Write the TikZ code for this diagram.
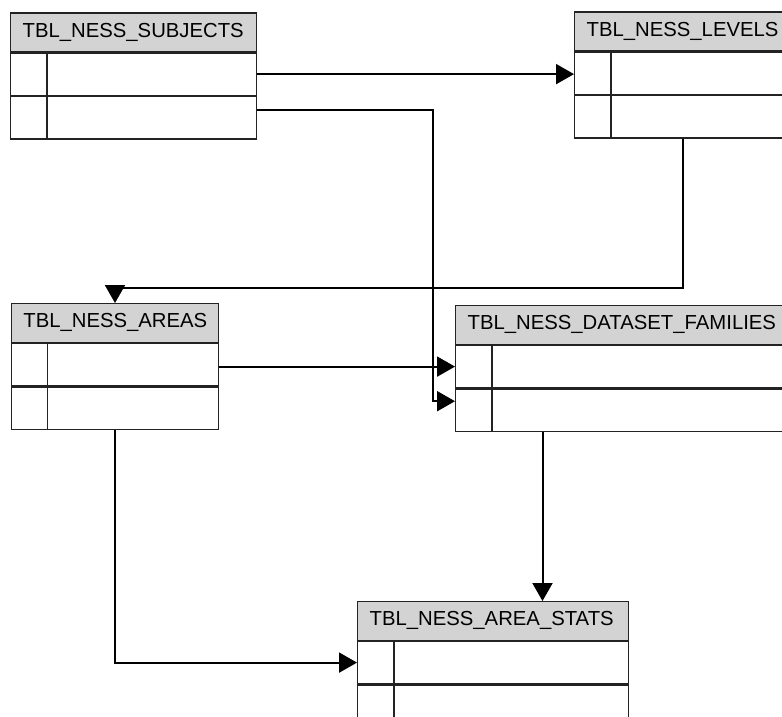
\documentclass[tikz,border=0pt]{standalone}
\usepackage{fontspec}
\setmainfont{Liberation Sans}
\usetikzlibrary{arrows.meta}
\definecolor{hdrc}{RGB}{211,211,211}
\definecolor{boxc}{RGB}{35,35,35}
\tikzset{
  tbl/.style={draw=boxc, line width=1.3pt, rectangle, anchor=north west, inner sep=0pt},
  hdr/.style={tbl, fill=hdrc, font=\fontsize{20.3}{24}\selectfont, inner xsep=12pt, align=left},
  rowbox/.style={tbl, fill=white, minimum height=42.3pt},
  keycol/.style={draw=boxc, line width=1.3pt},
  link/.style={line width=2pt, -{Triangle[length=18pt,width=20pt]}}
}
% table: name, x, y, width, text width (= width - 24), title
\newcommand\dbtable[6]{%
  \node[hdr, minimum width=#4pt, minimum height=38.5pt, text width=#5pt] (#1) at (#2,#3) {#6};
  \node[rowbox, minimum width=#4pt] (#1-r1) at (#1.south west) {};
  \node[rowbox, minimum width=#4pt] (#1-r2) at (#1-r1.south west) {};
  \draw[keycol] ([xshift=37pt]#1-r1.north west) -- ([xshift=37pt]#1-r2.south west);
}
\begin{document}
\begin{tikzpicture}[x=1pt,y=-1pt]
\useasboundingbox[fill=white] (0,0) rectangle (782,717);
\clip (0,0) rectangle (782,717);

\dbtable{subj}{10}{12.5}{246}{222}{TBL\_NESS\_SUBJECTS}
\dbtable{levels}{574}{11.5}{240}{216}{TBL\_NESS\_LEVELS}
\dbtable{areas}{10.7}{303}{207.3}{183.3}{TBL\_NESS\_AREAS}
\dbtable{fam}{455}{305}{360}{336}{TBL\_NESS\_DATASET\_FAMILIES}
\dbtable{stats}{357}{601}{271}{247}{TBL\_NESS\_AREA\_STATS}

% connector end points off the row centres
\coordinate (subj-out2) at ([yshift=8pt]subj-r2.east);
\coordinate (fam-in2) at ([yshift=9pt]fam-r2.west);
\coordinate (levels-out) at ([xshift=109pt]levels-r2.south west);
\coordinate (fam-out) at ([xshift=87.5pt]fam-r2.south west);

\draw[link] (subj-r1.east) -- (subj-r1.east -| levels-r1.west);
\draw[link] (subj-out2) -- (433,0 |- subj-out2) -- (433,0 |- fam-in2) -- (fam-in2);
\draw[link] (levels-out) -- ++(0,149) -| (areas.north);
\draw[link] (areas-r1.east |- fam-r1.west) -- (fam-r1.west);
\draw[link] (fam-out) -- (fam-out |- stats.north);
\draw[link] (areas-r2.south) |- (stats-r1.west);
\end{tikzpicture}
\end{document}
